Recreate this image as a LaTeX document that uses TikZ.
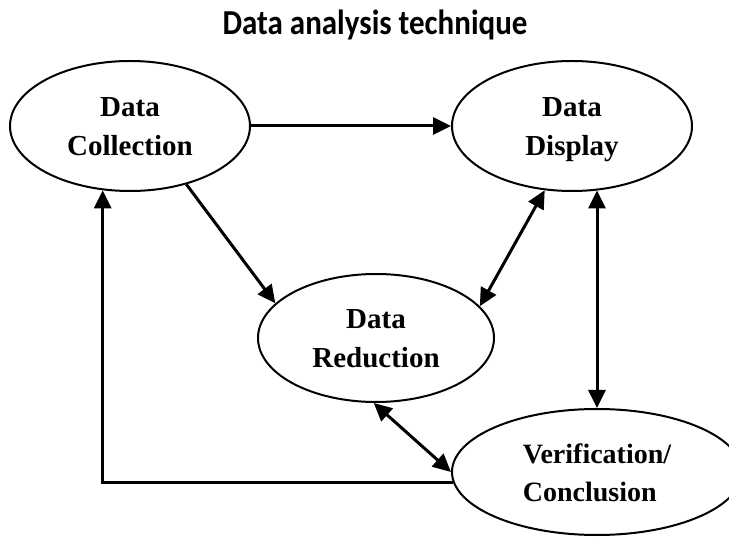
\documentclass[tikz,border=0pt]{standalone}
\usepackage{fontspec}
\setmainfont{Liberation Serif}
\newfontfamily\titlefont[FakeStretch=0.886]{Carlito}
\usetikzlibrary{arrows.meta,shapes.geometric}
\newcommand\topstrut{\rule{0pt}{27.4pt}}
\newcommand\botstrut{\rule[-7pt]{0pt}{7pt}}
\tikzset{
  bubble/.style={ellipse, draw, line width=2pt, inner sep=0pt, align=center,
    font=\fontsize{29}{39}\selectfont\bfseries},
  tip/.style={Triangle[length=18pt,width=17pt]},
  conn/.style={line width=3pt, -{Triangle[length=18pt,width=17pt]}},
  bothconn/.style={line width=3pt, {Triangle[length=18pt,width=17pt]}-{Triangle[length=18pt,width=17pt]}},
}
\begin{document}
\begin{tikzpicture}[x=1pt,y=-1pt]
\useasboundingbox (0,0) rectangle (729,537);
\node[anchor=base, font=\titlefont\fontsize{35}{40}\selectfont\bfseries] (title) at (375,35) {Data analysis technique};
\node[bubble, minimum width=240pt, minimum height=130pt] (dc) at (130,126) {\topstrut Data\\Collection\botstrut};
\node[bubble, minimum width=240pt, minimum height=130pt] (dd) at (572,126) {\topstrut Data\\Display\botstrut};
\node[bubble, minimum width=236pt, minimum height=128pt] (dr) at (376,338) {\topstrut Data\\Reduction\botstrut};
\node[bubble, align=left, minimum width=290pt, minimum height=126pt,
      font=\fontsize{28}{38}\selectfont\bfseries] (vc) at (597,472) {\topstrut Verification/\\Conclusion\botstrut};
\draw[conn] (dc.east) -- (dd.west);
\draw[conn] (dc.-46.5) -- (dr.161.9);
\draw[bothconn] (dd.-113.1) -- (dr.17.8);
\draw[bothconn] (vc.north |- dd.-68.5) -- (vc.north);
\draw[bothconn] (dr.-92) -- (vc.west);
\draw[conn] (vc.184.4) -| (dc.-113.1);
\end{tikzpicture}
\end{document}
